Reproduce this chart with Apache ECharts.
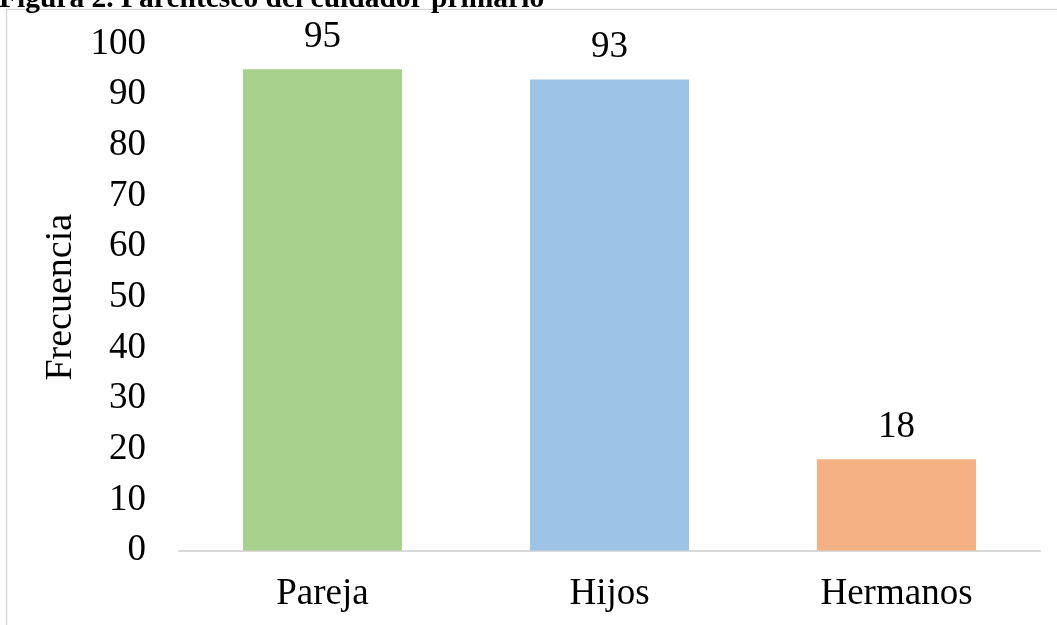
<!DOCTYPE html>
<html>
<head>
<meta charset="utf-8">
<script src="https://cdn.jsdelivr.net/npm/echarts@6/dist/echarts.min.js"></script>
<style>
html,body{margin:0;padding:0;background:#fff;}
#c{width:1057px;height:625px;}
</style>
</head>
<body>
<div id="c"></div>
<script>
const titleText = 'Figura 2. Parentesco del cuidador primario';
const categories = ['Pareja', 'Hijos', 'Hermanos'];
const values = [95, 93, 18];
const barColors = ['#A9D18E', '#9DC3E6', '#F4B183'];
const yAxisName = 'Frecuencia';

const FONT = '"Liberation Serif", "Times New Roman", serif';
const chart = echarts.init(document.getElementById('c'), null, {renderer: 'canvas'});
chart.setOption({
  animation: false,
  backgroundColor: '#fff',
  graphic: [
    {
      type: 'rect', silent: true,
      shape: {x: 6.5, y: 9.5, width: 1200, height: 700},
      style: {fill: 'none', stroke: '#D9D9D9', lineWidth: 1.5}
    },
    {
      type: 'text', silent: true, x: -1, y: -16,
      style: {text: titleText, font: 'bold 29.5px ' + FONT, fill: '#000'}
    }
  ],
  grid: {left: 179, right: 17, top: 44, bottom: 74.5, containLabel: false},
  xAxis: {
    type: 'category',
    data: categories,
    axisLine: {show: true, lineStyle: {color: '#D9D9D9', width: 2}},
    axisTick: {show: false},
    axisLabel: {color: '#000', fontFamily: FONT, fontSize: 37, margin: 25}
  },
  yAxis: {
    type: 'value',
    min: 0, max: 100, interval: 10,
    name: yAxisName,
    nameLocation: 'middle',
    nameGap: 93,
    nameRotate: 90,
    nameTextStyle: {color: '#000', fontFamily: FONT, fontSize: 38},
    axisLine: {show: false},
    axisTick: {show: false},
    splitLine: {show: false},
    axisLabel: {color: '#000', fontFamily: FONT, fontSize: 37, margin: 33}
  },
  series: [{
    type: 'bar',
    data: values.map((v, i) => ({value: v, itemStyle: {color: barColors[i]}})),
    barCategoryGap: '44.6%',
    label: {show: true, position: 'top', distance: 14, color: '#000', fontFamily: FONT, fontSize: 37}
  }]
});
</script>
</body>
</html>
